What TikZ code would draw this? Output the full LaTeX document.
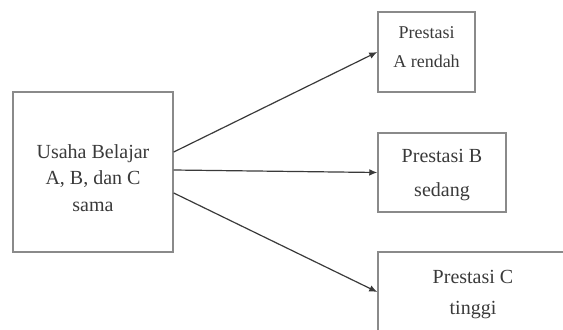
\documentclass[tikz,border=0pt]{standalone}
\usepackage{fontspec}
\setmainfont{Liberation Serif}
\usetikzlibrary{arrows.meta}
\definecolor{boxgray}{HTML}{8A8A8A}
\definecolor{txtgray}{HTML}{3A3A3A}
\definecolor{arrgray}{HTML}{3A3A3A}

\begin{document}
\begin{tikzpicture}[x=0.75pt, y=-0.75pt,
		kotak/.style={draw=boxgray, line width=1.1pt, align=center, text=txtgray, inner sep=0pt},
		panah/.style={draw=arrgray, line width=0.9pt, -{Latex[length=6pt, width=5pt]}}]
		\clip (0,0) rectangle (563,329);
		\useasboundingbox (0,0) rectangle (563,329);
		% Draw the boxes
		\node[kotak, minimum width=120pt, minimum height=120pt, font=\fontsize{15}{19.9}\selectfont]
			(usaha) at (93,172) {\rule{0pt}{19pt}Usaha Belajar\\A, B, dan C\\sama};
		\node[kotak, minimum width=72.75pt, minimum height=60pt, font=\fontsize{13.5}{21.75}\selectfont]
			(prestasiA) at (426.5,52) {Prestasi\\A rendah\rule[-7.5pt]{0pt}{7.5pt}};
		\node[kotak, minimum width=96pt, minimum height=59.25pt, font=\fontsize{15}{25.5}\selectfont]
			(prestasiB) at (442,172.5) {\rule{0pt}{14pt}Prestasi B\\sedang};
		\node[kotak, minimum width=142.5pt, minimum height=60pt, font=\fontsize{15}{23.25}\selectfont]
			(prestasiC) at (473,292) {\rule{0pt}{13.5pt}Prestasi C\\tinggi};
		% Draw the arrows
		\coordinate (ujungA) at ([yshift=15pt]usaha.east);
		\coordinate (ujungB) at ([yshift=1.5pt]usaha.east);
		\coordinate (ujungC) at ([yshift=-15.75pt]usaha.east);
		\draw[panah] (ujungA) -- (prestasiA.west);
		\draw[panah] (ujungB) -- (prestasiB.west);
		\draw[panah] (ujungC) -- (prestasiC.west);
	\end{tikzpicture}
\end{document}
